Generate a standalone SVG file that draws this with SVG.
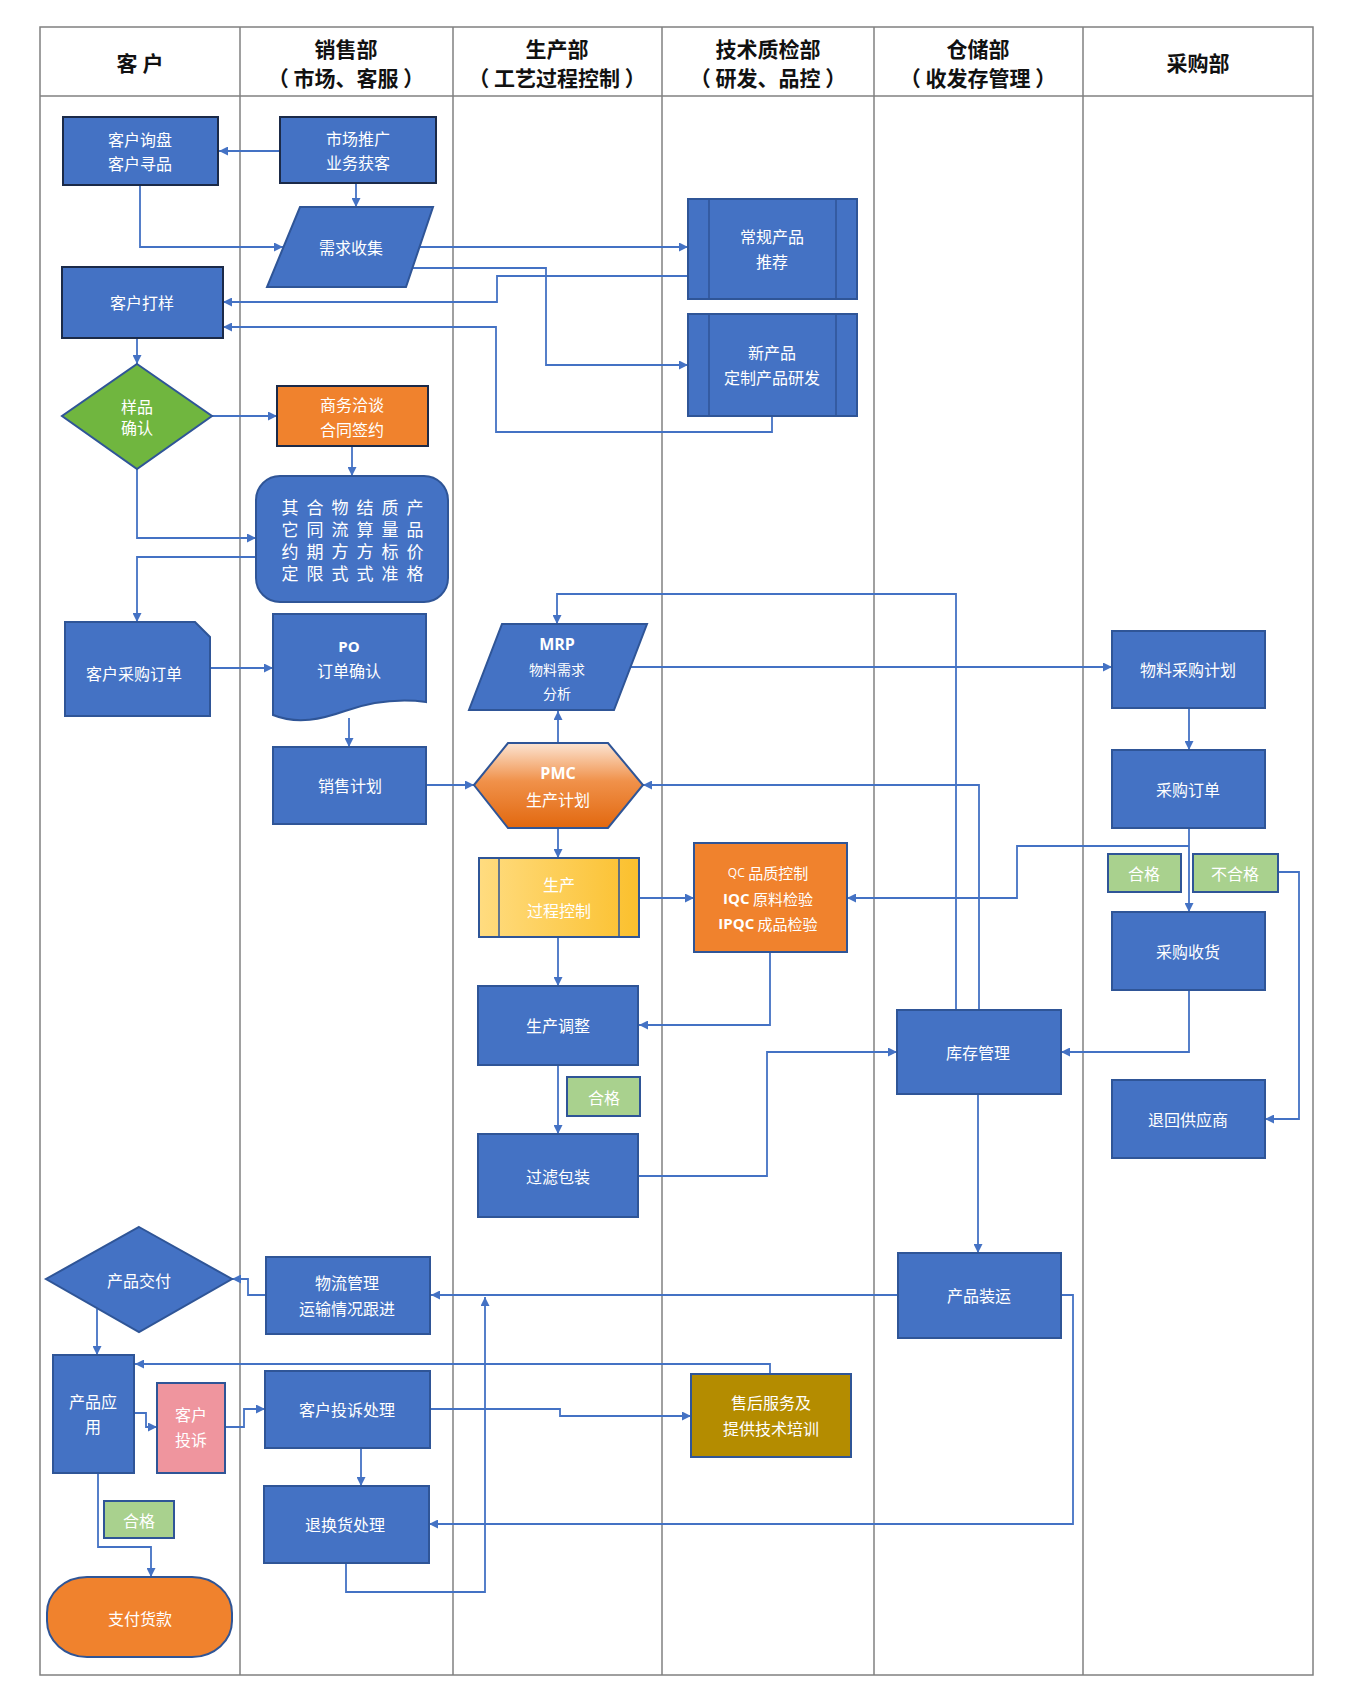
<svg xmlns="http://www.w3.org/2000/svg" width="1347" height="1702" viewBox="0 0 1347 1702">
<style>
.lane{stroke:#808080;stroke-width:1.5;fill:none}
.hd{font-family:'Noto Sans CJK SC','Noto Sans',sans-serif;font-weight:bold;font-size:21px;fill:#111;text-anchor:middle;dominant-baseline:central}
.t{font-family:'Noto Sans CJK SC','Noto Sans',sans-serif;font-size:16px;fill:#fff;text-anchor:middle;dominant-baseline:central}
.v{font-family:'Noto Sans CJK SC','Noto Sans',sans-serif;font-size:17px;fill:#fff;text-anchor:middle;writing-mode:vertical-rl;letter-spacing:5px}
.lat{font-family:'Open Sans','Noto Sans',sans-serif;font-weight:bold}
.b{fill:#4472C4;stroke:#2F5597;stroke-width:2}
.bd{fill:#4472C4;stroke:#1B2A48;stroke-width:2}
.g{fill:#A9D18E;stroke:#2F5597;stroke-width:2}
.c{fill:none;stroke:#4472C4;stroke-width:1.8;marker-end:url(#ah)}
</style>
<defs>
<marker id="ah" viewBox="0 0 10 10" refX="10" refY="5" markerWidth="9" markerHeight="9" markerUnits="userSpaceOnUse" orient="auto"><path d="M0,0 L10,5 L0,10 z" fill="#4472C4"/></marker>
<linearGradient id="pmc" x1="0" y1="0" x2="0" y2="1"><stop offset="0" stop-color="#FCE4D2"/><stop offset="0.45" stop-color="#F0914A"/><stop offset="1" stop-color="#E2680F"/></linearGradient>
<linearGradient id="yel" x1="0" y1="0" x2="1" y2="0"><stop offset="0" stop-color="#FFDC80"/><stop offset="1" stop-color="#FBC02D"/></linearGradient>
</defs>
<rect width="1347" height="1702" fill="#fff"/>
<g id="lanes">
<rect class="lane" x="40" y="27" width="1273" height="1648"/>
<line class="lane" x1="40" y1="96" x2="1313" y2="96"/>
<line class="lane" x1="240" y1="27" x2="240" y2="1675"/>
<line class="lane" x1="453" y1="27" x2="453" y2="1675"/>
<line class="lane" x1="662" y1="27" x2="662" y2="1675"/>
<line class="lane" x1="874" y1="27" x2="874" y2="1675"/>
<line class="lane" x1="1083" y1="27" x2="1083" y2="1675"/>
<text class="hd" x="140" y="62">客  户</text>
<text class="hd" x="346" y="48">销售部</text>
<text class="hd" x="346" y="77">（ 市场、客服 ）</text>
<text class="hd" x="557" y="48">生产部</text>
<text class="hd" x="557" y="77">（ 工艺过程控制 ）</text>
<text class="hd" x="768" y="48">技术质检部</text>
<text class="hd" x="768" y="77">（ 研发、品控 ）</text>
<text class="hd" x="978" y="48">仓储部</text>
<text class="hd" x="978" y="77">（ 收发存管理 ）</text>
<text class="hd" x="1198" y="62">采购部</text>
</g>
<g id="connectors">
<path class="c" d="M280,151 H219"/>
<path class="c" d="M356,183 V207"/>
<path class="c" d="M140,185 V247 H283"/>
<path class="c" d="M417,247 H688"/>
<path class="c" d="M409,268 H546 V365 H688"/>
<path class="c" d="M688,276 H497 V302 H223"/>
<path class="c" d="M772,416 V432 H496 V327 H223"/>
<path class="c" d="M137,338 V364"/>
<path class="c" d="M212,416 H277"/>
<path class="c" d="M352,446 V476"/>
<path class="c" d="M137,469 V538 H256"/>
<path class="c" d="M256,557 H137 V622"/>
<path class="c" d="M210,668 H273"/>
<path class="c" d="M349,718 V747"/>
<path class="c" d="M426,785 H474"/>
<path class="c" d="M558,742 V711"/>
<path class="c" d="M630,667 H1112"/>
<path class="c" d="M956,1010 V594 H557 V624"/>
<path class="c" d="M979,1010 V785 H643"/>
<path class="c" d="M1189,708 V750"/>
<path class="c" d="M1189,828 V912"/>
<path class="c" d="M1189,846 H1017 V898 H847"/>
<path class="c" d="M1278,872 H1299 V1119 H1265"/>
<path class="c" d="M1189,990 V1052 H1061"/>
<path class="c" d="M770,952 V1025 H639"/>
<path class="c" d="M638,1176 H767 V1052 H897"/>
<path class="c" d="M978,1094 V1253"/>
<path class="c" d="M558,828 V858"/>
<path class="c" d="M639,898 H694"/>
<path class="c" d="M558,937 V986"/>
<path class="c" d="M558,1065 V1134"/>
<path class="c" d="M898,1295 H431"/>
<path class="c" d="M266,1295 H248 V1279 H232"/>
<path class="c" d="M97,1309 V1355"/>
<path class="c" d="M770,1374 V1364 H135"/>
<path class="c" d="M134,1413 H146 V1427 H157"/>
<path class="c" d="M225,1427 H244 V1409 H265"/>
<path class="c" d="M430,1409 H560 V1416 H691"/>
<path class="c" d="M361,1448 V1486"/>
<path class="c" d="M1061,1295 H1073 V1524 H429"/>
<path class="c" d="M346,1563 V1592 H485 V1297"/>
<path class="c" d="M98,1473 V1547 H151 V1577"/>
</g>
<g id="n_xunpan"><rect class="bd" x="63" y="117" width="155" height="68"/><text class="t" x="140" y="139">客户询盘</text><text class="t" x="140" y="163">客户寻品</text></g>
<g id="n_tuiguang"><rect class="bd" x="280" y="117" width="156" height="66"/><text class="t" x="358" y="138">市场推广</text><text class="t" x="358" y="162">业务获客</text></g>
<g id="n_xuqiu"><polygon class="b" points="300,207 433,207 406,287 267,287"/><text class="t" x="351" y="247">需求收集</text></g>
<g id="n_changgui"><rect class="b" x="688" y="199" width="169" height="100"/><line x1="709" y1="199" x2="709" y2="299" stroke="#2F5597" stroke-width="1.5"/><line x1="836" y1="199" x2="836" y2="299" stroke="#2F5597" stroke-width="1.5"/><text class="t" x="772" y="236">常规产品</text><text class="t" x="772" y="261">推荐</text></g>
<g id="n_xinchanpin"><rect class="b" x="688" y="314" width="169" height="102"/><line x1="709" y1="314" x2="709" y2="416" stroke="#2F5597" stroke-width="1.5"/><line x1="836" y1="314" x2="836" y2="416" stroke="#2F5597" stroke-width="1.5"/><text class="t" x="772" y="352">新产品</text><text class="t" x="772" y="377">定制产品研发</text></g>
<g id="n_dayang"><rect class="bd" x="62" y="267" width="161" height="71"/><text class="t" x="142" y="302">客户打样</text></g>
<g id="n_yangpin"><polygon points="137,364 212,416 137,469 62,416" fill="#70B63F" stroke="#2F5597" stroke-width="2"/><text class="t" x="137" y="406">样品</text><text class="t" x="137" y="427">确认</text></g>
<g id="n_shangwu"><rect x="277" y="386" width="151" height="60" fill="#F0822D" stroke="#1B2A48" stroke-width="2"/><text class="t" x="352" y="404">商务洽谈</text><text class="t" x="352" y="429">合同签约</text></g>
<g id="n_hetong"><rect class="b" x="256" y="476" width="192" height="126" rx="24" ry="24"/>
<text class="v" x="415" y="543">产品价格</text>
<text class="v" x="390" y="543">质量标准</text>
<text class="v" x="365" y="543">结算方式</text>
<text class="v" x="340" y="543">物流方式</text>
<text class="v" x="315" y="543">合同期限</text>
<text class="v" x="290" y="543">其它约定</text>
</g>
<g id="n_caigoudingdan_kh"><polygon class="b" points="65,622 195,622 210,637 210,716 65,716"/><text class="t" x="134" y="673">客户采购订单</text></g>
<g id="n_po"><path class="b" d="M273,614 H426 V702 C395,698 368,703 345,711 C322,719 298,725 273,715 Z"/><text class="t lat" x="349" y="646" style="font-size:15px">PO</text><text class="t" x="349" y="670">订单确认</text></g>
<g id="n_xiaoshou"><rect class="b" x="273" y="747" width="153" height="77"/><text class="t" x="350" y="785">销售计划</text></g>
<g id="n_mrp"><polygon class="b" points="502,624 647,624 614,710 469,710"/><text class="t lat" x="557" y="644" style="font-size:16px">MRP</text><text class="t" x="557" y="669" style="font-size:14px">物料需求</text><text class="t" x="557" y="693" style="font-size:14px">分析</text></g>
<g id="n_pmc"><polygon points="474,785 508,743 608,743 643,785 608,828 508,828" fill="url(#pmc)" stroke="#2F5597" stroke-width="2"/><text class="t lat" x="558" y="773" style="font-size:16px">PMC</text><text class="t" x="558" y="799">生产计划</text></g>
<g id="n_guocheng"><rect x="479" y="858" width="160" height="79" fill="url(#yel)" stroke="#2F5597" stroke-width="2"/><line x1="499" y1="858" x2="499" y2="937" stroke="#2F5597" stroke-width="1.5"/><line x1="619" y1="858" x2="619" y2="937" stroke="#2F5597" stroke-width="1.5"/><text class="t" x="559" y="884">生产</text><text class="t" x="559" y="910">过程控制</text></g>
<g id="n_qc"><rect x="694" y="843" width="153" height="109" fill="#F0822D" stroke="#2F5597" stroke-width="2"/>
<text class="t" x="768" y="872" style="font-size:15px"><tspan style="font-family:'Open Sans',sans-serif;font-size:12px">QC</tspan> 品质控制</text>
<text class="t" x="768" y="898" style="font-size:15px"><tspan class="lat">IQC</tspan> 原料检验</text>
<text class="t" x="768" y="923" style="font-size:15px"><tspan class="lat">IPQC</tspan> 成品检验</text></g>
<g id="n_tiaozheng"><rect class="b" x="478" y="986" width="160" height="79"/><text class="t" x="558" y="1025">生产调整</text></g>
<g id="n_hege1"><rect class="g" x="567" y="1077" width="73" height="39"/><text class="t" x="604" y="1097">合格</text></g>
<g id="n_baozhuang"><rect class="b" x="478" y="1134" width="160" height="83"/><text class="t" x="558" y="1176">过滤包装</text></g>
<g id="n_kucun"><rect class="b" x="897" y="1010" width="164" height="84"/><text class="t" x="978" y="1052">库存管理</text></g>
<g id="n_wuliaojihua"><rect class="b" x="1112" y="631" width="153" height="77"/><text class="t" x="1188" y="669">物料采购计划</text></g>
<g id="n_caigoudingdan"><rect class="b" x="1112" y="750" width="153" height="78"/><text class="t" x="1188" y="789">采购订单</text></g>
<g id="n_hege2"><rect class="g" x="1108" y="854" width="73" height="38"/><text class="t" x="1144" y="873">合格</text></g>
<g id="n_buhege"><rect class="g" x="1193" y="854" width="85" height="38"/><text class="t" x="1235" y="873">不合格</text></g>
<g id="n_shouhuo"><rect class="b" x="1112" y="912" width="153" height="78"/><text class="t" x="1188" y="951">采购收货</text></g>
<g id="n_tuihui"><rect class="b" x="1112" y="1080" width="153" height="78"/><text class="t" x="1188" y="1119">退回供应商</text></g>
<g id="n_zhuangyun"><rect class="b" x="898" y="1253" width="163" height="85"/><text class="t" x="979" y="1295">产品装运</text></g>
<g id="n_wuliu"><rect class="b" x="266" y="1257" width="164" height="77"/><text class="t" x="347" y="1282">物流管理</text><text class="t" x="347" y="1308">运输情况跟进</text></g>
<g id="n_jiaofu"><polygon class="b" points="139,1227 232,1279 139,1332 46,1279"/><text class="t" x="139" y="1280">产品交付</text></g>
<g id="n_yingyong"><rect class="b" x="53" y="1355" width="81" height="118"/><text class="t" x="93" y="1401">产品应</text><text class="t" x="93" y="1426">用</text></g>
<g id="n_tousu"><rect x="157" y="1383" width="68" height="90" fill="#EF959E" stroke="#2F5597" stroke-width="2"/><text class="t" x="191" y="1414">客户</text><text class="t" x="191" y="1439">投诉</text></g>
<g id="n_tousuchuli"><rect class="b" x="265" y="1371" width="165" height="77"/><text class="t" x="347" y="1409">客户投诉处理</text></g>
<g id="n_shouhou"><rect x="691" y="1374" width="160" height="83" fill="#B48C00" stroke="#2F5597" stroke-width="2"/><text class="t" x="771" y="1402">售后服务及</text><text class="t" x="771" y="1428">提供技术培训</text></g>
<g id="n_tuihuan"><rect class="b" x="264" y="1486" width="165" height="77"/><text class="t" x="345" y="1524">退换货处理</text></g>
<g id="n_hege3"><rect class="g" x="104" y="1501" width="70" height="37"/><text class="t" x="139" y="1520">合格</text></g>
<g id="n_zhifu"><rect x="47" y="1577" width="185" height="80" rx="40" ry="36" fill="#F0822D" stroke="#2F5597" stroke-width="2"/><text class="t" x="140" y="1618">支付货款</text></g>
</svg>
